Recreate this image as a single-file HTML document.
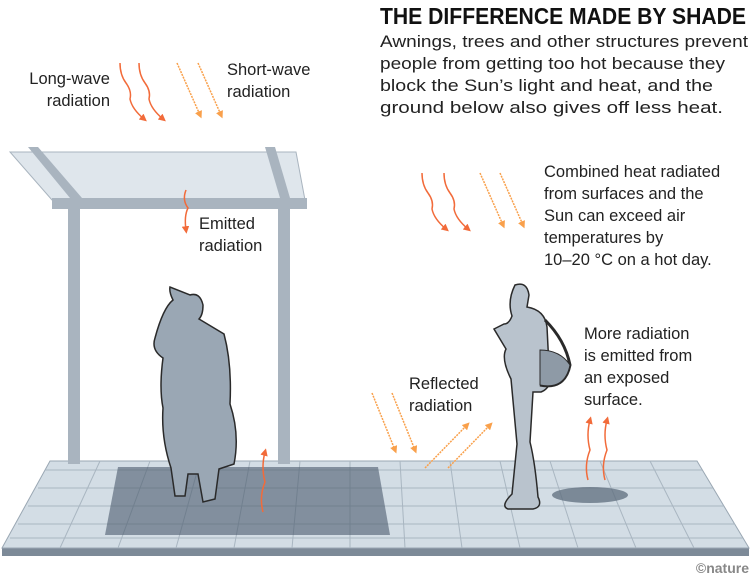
<!DOCTYPE html>
<html><head><meta charset="utf-8"><style>
body{margin:0;background:#fff;}
svg{display:block}
text{font-family:"Liberation Sans",sans-serif;fill:#222;font-size:16.5px}
</style></head><body>
<svg width="751" height="577" viewBox="0 0 751 577">
<defs>
<marker id="ar" viewBox="0 0 10 10" refX="5" refY="5" markerWidth="5" markerHeight="5" orient="auto"><path d="M0,0L10,5L0,10z" fill="#f26b3a"/></marker>
<marker id="ay" viewBox="0 0 10 10" refX="5" refY="5" markerWidth="5" markerHeight="5" orient="auto"><path d="M0,0L10,5L0,10z" fill="#f9a04b"/></marker>
</defs>
<!-- floor -->
<polygon points="2,548 749,548 749,556 2,556" fill="#7d8a98"/>
<polygon points="50,461 697,461 749,548 2,548" fill="#d3dde5" stroke="#9aa7b3"/>
<g stroke="#a9b6c1" stroke-width="1">
<line x1="45" y1="470" x2="702" y2="470"/><line x1="38" y1="488" x2="713" y2="488"/><line x1="28" y1="506" x2="724" y2="506"/><line x1="18" y1="524" x2="735" y2="524"/><line x1="10" y1="538" x2="743" y2="538"/>
<line x1="100" y1="461" x2="60" y2="548"/><line x1="150" y1="461" x2="118" y2="548"/><line x1="200" y1="461" x2="176" y2="548"/><line x1="250" y1="461" x2="234" y2="548"/><line x1="300" y1="461" x2="292" y2="548"/><line x1="350" y1="461" x2="350" y2="548"/><line x1="400" y1="461" x2="405" y2="548"/><line x1="450" y1="461" x2="462" y2="548"/><line x1="500" y1="461" x2="520" y2="548"/><line x1="550" y1="461" x2="578" y2="548"/><line x1="600" y1="461" x2="636" y2="548"/><line x1="650" y1="461" x2="694" y2="548"/>
</g>
<polygon points="118,467 378,467 390,535 105,535" fill="#4d5c6e" opacity="0.6"/>
<ellipse cx="590" cy="495" rx="38" ry="8" fill="#5d6c7c" opacity="0.75"/>
<!-- canopy -->
<rect x="68" y="206" width="12" height="258" fill="#a9b4bf"/>
<rect x="278" y="206" width="12" height="258" fill="#a9b4bf"/>
<polygon points="10,152 296,152 305,200 52,200" fill="#dfe6ec" stroke="#a9b4bf"/>
<polygon points="28,147 38,147 82,198 70,198" fill="#a9b4bf"/>
<polygon points="265,147 275,147 290,198 280,198" fill="#a9b4bf"/>
<rect x="52" y="198" width="255" height="11" fill="#a9b4bf"/>
<!-- woman -->
<path d="M190,295 q10,-3 13,10 q0,10 -4,14 l25,15 q8,30 6,70 q10,30 4,60 l-15,5 -4,30 -12,3 -5,-28 -10,0 -3,22 -10,0 -4,-28 q-10,-30 -8,-60 q-4,-20 0,-50 q-12,-8 -8,-20 q8,-30 18,-38 q-4,-8 -3,-13 z" fill="#9aa7b4" stroke="#2a2a2a" stroke-width="1.5"/>
<!-- man -->
<path d="M515,285 q12,-4 14,10 l-2,12 q18,3 20,20 l2,40 q5,20 -8,25 l-8,0 -3,50 q5,20 8,55 q5,10 -5,12 l-25,0 q-8,-3 4,-15 l5,-50 -6,-65 q-10,-20 -5,-30 l-12,-20 10,-5 q5,0 8,-8 q-5,-15 3,-31 z" fill="#b9c3cd" stroke="#2a2a2a" stroke-width="1.5"/>
<path d="M545,320 q20,20 25,45 q-5,25 -30,20" fill="none" stroke="#2a2a2a" stroke-width="3"/>
<path d="M540,350 q20,0 30,15 q-5,25 -30,20 z" fill="#8e9aa6" stroke="#2a2a2a"/>
<!-- arrows -->
<g fill="none" stroke-width="1.5">
<path d="M120,63 q0,12 6,20 q6,8 4,16 q2,10 14,20" stroke="#f26b3a" marker-end="url(#ar)"/>
<path d="M139,63 q0,12 6,20 q6,8 4,16 q2,10 14,20" stroke="#f26b3a" marker-end="url(#ar)"/>
<path d="M177,63 L200,115" stroke="#f9a04b" stroke-dasharray="2 1" marker-end="url(#ay)"/>
<path d="M198,63 L221,115" stroke="#f9a04b" stroke-dasharray="2 1" marker-end="url(#ay)"/>
<path d="M186,190 q-4,10 2,18 q-4,8 -2,22" stroke="#f26b3a" marker-end="url(#ar)"/>
<path d="M263,512 q-4,-15 2,-30 q-4,-15 0,-30" stroke="#f26b3a" marker-end="url(#ar)"/>
<path d="M422,173 q0,12 6,20 q6,8 4,16 q2,10 14,20" stroke="#f26b3a" marker-end="url(#ar)"/>
<path d="M444,173 q0,12 6,20 q6,8 4,16 q2,10 14,20" stroke="#f26b3a" marker-end="url(#ar)"/>
<path d="M480,173 L503,225" stroke="#f9a04b" stroke-dasharray="2 1" marker-end="url(#ay)"/>
<path d="M500,173 L523,225" stroke="#f9a04b" stroke-dasharray="2 1" marker-end="url(#ay)"/>
<path d="M372,393 L395,450" stroke="#f9a04b" stroke-dasharray="2 1" marker-end="url(#ay)"/>
<path d="M392,393 L415,450" stroke="#f9a04b" stroke-dasharray="2 1" marker-end="url(#ay)"/>
<path d="M425,468 L467,425" stroke="#f9a04b" stroke-dasharray="2 1" marker-end="url(#ay)"/>
<path d="M448,468 L490,425" stroke="#f9a04b" stroke-dasharray="2 1" marker-end="url(#ay)"/>
<path d="M588,480 q-4,-15 2,-30 q-4,-15 0,-30" stroke="#f26b3a" marker-end="url(#ar)"/>
<path d="M605,480 q-4,-15 2,-30 q-4,-15 0,-30" stroke="#f26b3a" marker-end="url(#ar)"/>
</g>
<!-- text -->
<text x="380" y="24" textLength="366" lengthAdjust="spacingAndGlyphs" style="font-size:23px;font-weight:bold;fill:#111">THE DIFFERENCE MADE BY SHADE</text>
<text x="380" y="47" textLength="368" lengthAdjust="spacingAndGlyphs">Awnings, trees and other structures prevent</text>
<text x="380" y="69" textLength="345" lengthAdjust="spacingAndGlyphs">people from getting too hot because they</text>
<text x="380" y="91" textLength="333" lengthAdjust="spacingAndGlyphs">block the Sun’s light and heat, and the</text>
<text x="380" y="113" textLength="343" lengthAdjust="spacingAndGlyphs">ground below also gives off less heat.</text>
<text x="110" y="84" text-anchor="end">Long-wave</text>
<text x="110" y="106" text-anchor="end">radiation</text>
<text x="227" y="75">Short-wave</text>
<text x="227" y="97">radiation</text>
<text x="199" y="229">Emitted</text>
<text x="199" y="251">radiation</text>
<text x="544" y="177">Combined heat radiated</text>
<text x="544" y="199">from surfaces and the</text>
<text x="544" y="221">Sun can exceed air</text>
<text x="544" y="243">temperatures by</text>
<text x="544" y="265">10–20 °C on a hot day.</text>
<text x="409" y="389">Reflected</text>
<text x="409" y="411">radiation</text>
<text x="584" y="339">More radiation</text>
<text x="584" y="361">is emitted from</text>
<text x="584" y="383">an exposed</text>
<text x="584" y="405">surface.</text>
<text x="749" y="573" text-anchor="end" style="font-size:14px;fill:#888;font-weight:bold">©nature</text>
</svg>
</body></html>
